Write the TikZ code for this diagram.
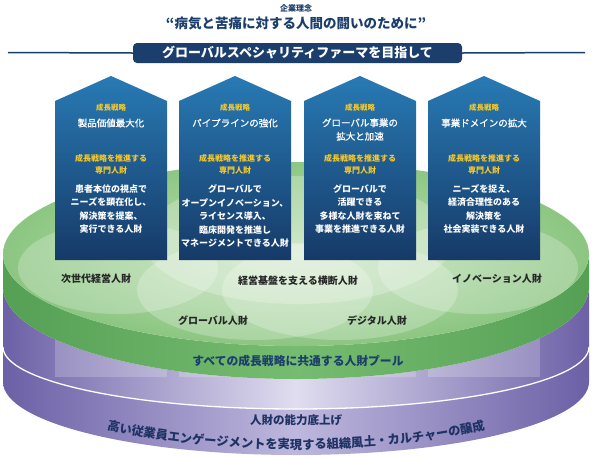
\documentclass[tikz,border=0pt]{standalone}
\usepackage{fontspec}
\setmainfont{Noto Sans CJK JP}
\newfontfamily\medfont[FakeBold=1.0]{Noto Sans CJK JP}
\usetikzlibrary{decorations.text}
\definecolor{navy}{RGB}{27,62,108}
\definecolor{ctop}{RGB}{40,122,180}
\definecolor{cbot}{RGB}{22,58,104}
\definecolor{gold}{RGB}{246,200,40}
\definecolor{gdark}{RGB}{85,160,85}
\definecolor{gband}{RGB}{118,188,112}
\definecolor{gmid}{RGB}{140,198,130}
\definecolor{glight}{RGB}{195,226,185}
\definecolor{pdark}{RGB}{108,96,166}
\definecolor{plight}{RGB}{224,221,240}
\definecolor{pmid}{RGB}{190,184,222}
\definecolor{ptext}{RGB}{30,50,100}
\tikzset{
  colbox/.style={top color=ctop, bottom color=cbot},
  yel/.style={text=gold, font=\fontsize{7.5}{9}\selectfont\bfseries},
  yel2/.style={text=gold, font=\fontsize{8}{12}\selectfont\bfseries, align=center},
  ttl/.style={text=white, font=\fontsize{9.5}{13.5}\selectfont\medfont, align=center},
  body/.style={text=white, font=\fontsize{9}{13.5}\selectfont\bfseries, align=center},
  venn/.style={fill=white, fill opacity=0.24},
  vlab/.style={text=black!85, font=\fontsize{10}{12}\selectfont\bfseries},
}
\begin{document}
\begin{tikzpicture}[x=1pt,y=1pt]
\useasboundingbox (0,0) rectangle (592,-456);
\fill[white] (0,0) rectangle (592,-456);
% ---- purple lower disc
\shade[left color=pdark, right color=pdark, middle color=pmid]
  (3,-347) -- (3,-382) arc[start angle=180,end angle=360,x radius=293,y radius=73]
  -- (589,-347) arc[start angle=0,end angle=-180,x radius=293,y radius=62] -- cycle;
% ---- purple upper disc side
\shade[left color=pdark, right color=pdark, middle color=plight]
  (3,-287) -- (3,-347) arc[start angle=180,end angle=360,x radius=293,y radius=62]
  -- (589,-287) arc[start angle=0,end angle=-180,x radius=293,y radius=92] -- cycle;
% pillars
\foreach \a/\b in {55/167,179/291,304/416,428/540}
  \fill[white, opacity=0.2] (\a,-300) rectangle (\b,-377);
% white separator
\draw[white, line width=1.3] (3,-347) arc[start angle=180,end angle=360,x radius=293,y radius=62];
% ---- green band
\shade[left color=gdark, right color=gdark, middle color=gband]
  (3,-254) -- (3,-287) arc[start angle=180,end angle=360,x radius=293,y radius=92]
  -- (589,-254) arc[start angle=0,end angle=-180,x radius=293,y radius=92] -- cycle;
% ---- green top
\shade[inner color=glight, outer color=gmid] (296,-254) ellipse[x radius=293, y radius=92];
% venn
\fill[venn] (118,-268) ellipse[x radius=100, y radius=46];
\fill[venn] (478,-268) ellipse[x radius=100, y radius=46];
\fill[venn] (298,-240) ellipse[x radius=155, y radius=64];
\fill[venn] (255,-290) ellipse[x radius=118, y radius=50];
\fill[venn] (340,-290) ellipse[x radius=118, y radius=50];
% ---- header
\node[font=\fontsize{8}{9}\selectfont\bfseries, text=navy] (kr) at (296,-8) {企業理念};
\node[font=\fontsize{13.5}{15}\selectfont\bfseries, text=navy] (quote) at (296,-23) {“病気と苦痛に対する人間の闘いのために”};
\coordinate (bl) at (8,-52.5);
\coordinate (br) at (585,-52.5);
\node[fill=navy, rounded corners=4pt, minimum width=329pt, minimum height=20pt, inner sep=0pt,
  text=white, font=\fontsize{13}{14}\selectfont\bfseries] (banner) at (297.5,-53) {グローバルスペシャリティファーマを目指して};
\draw[navy, line width=1.5] (bl) -- (banner.west);
\draw[navy, line width=1.5] (banner.east) -- (br);
% ---- columns
\foreach \a/\b/\n in {55/167/1,179/291/2,304/416/3,428/540/4}{
  \shade[colbox] (\a,-260) -- (\a,-101) -- ({(\a+\b)/2},-76) -- (\b,-101) -- (\b,-260) -- cycle;
  \node[yel] (s\n) at ({(\a+\b)/2},-108) {成長戦略};
  \node[yel2] (p\n) at ({(\a+\b)/2},-164) {成長戦略を推進する\\専門人財};
}
\node[ttl] (t1) at (111,-123) {製品価値最大化};
\node[ttl] (t2) at (235,-123) {パイプラインの強化};
\node[ttl] (t3) at (360,-129.5) {グローバル事業の\\拡大と加速};
\node[ttl] (t4) at (484,-123) {事業ドメインの拡大};
\node[body] (b1) at (111,-209) {患者本位の視点で\\ニーズを顕在化し、\\解決策を提案、\\実行できる人財};
\node[body] (b2) at (235,-216) {グローバルで\\オープンイノベーション、\\ライセンス導入、\\臨床開発を推進し\\マネージメントできる人財};
\node[body] (b3) at (360,-209) {グローバルで\\活躍できる\\多様な人財を束ねて\\事業を推進できる人財};
\node[body] (b4) at (484,-209) {ニーズを捉え、\\経済合理性のある\\解決策を\\社会実装できる人財};
% ---- venn labels
\node[vlab] (v1) at (96,-279) {次世代経営人財};
\node[vlab] (v2) at (298,-281) {経営基盤を支える横断人財};
\node[vlab] (v3) at (497,-279) {イノベーション人財};
\node[vlab] (v4) at (213,-321) {グローバル人財};
\node[vlab] (v5) at (377,-321) {デジタル人財};
% ---- band texts
\node[text=navy, font=\fontsize{11.8}{13}\selectfont\bfseries] (pool) at (298,-361) {すべての成長戦略に共通する人財プール};
\node[text=ptext, font=\fontsize{11.5}{13}\selectfont\bfseries] (base) at (296,-420) {人財の能力底上げ};
\path[decorate, decoration={text along path, text align=center,
  text={|\fontsize{12.3}{13}\selectfont\bfseries\color{ptext}|高い従業員エンゲージメントを実現する組織風土・カルチャーの醸成}}]
  (37.6,-401.6) arc[start angle=200,end angle=340,x radius=275,y radius=72];
\end{tikzpicture}
\end{document}
